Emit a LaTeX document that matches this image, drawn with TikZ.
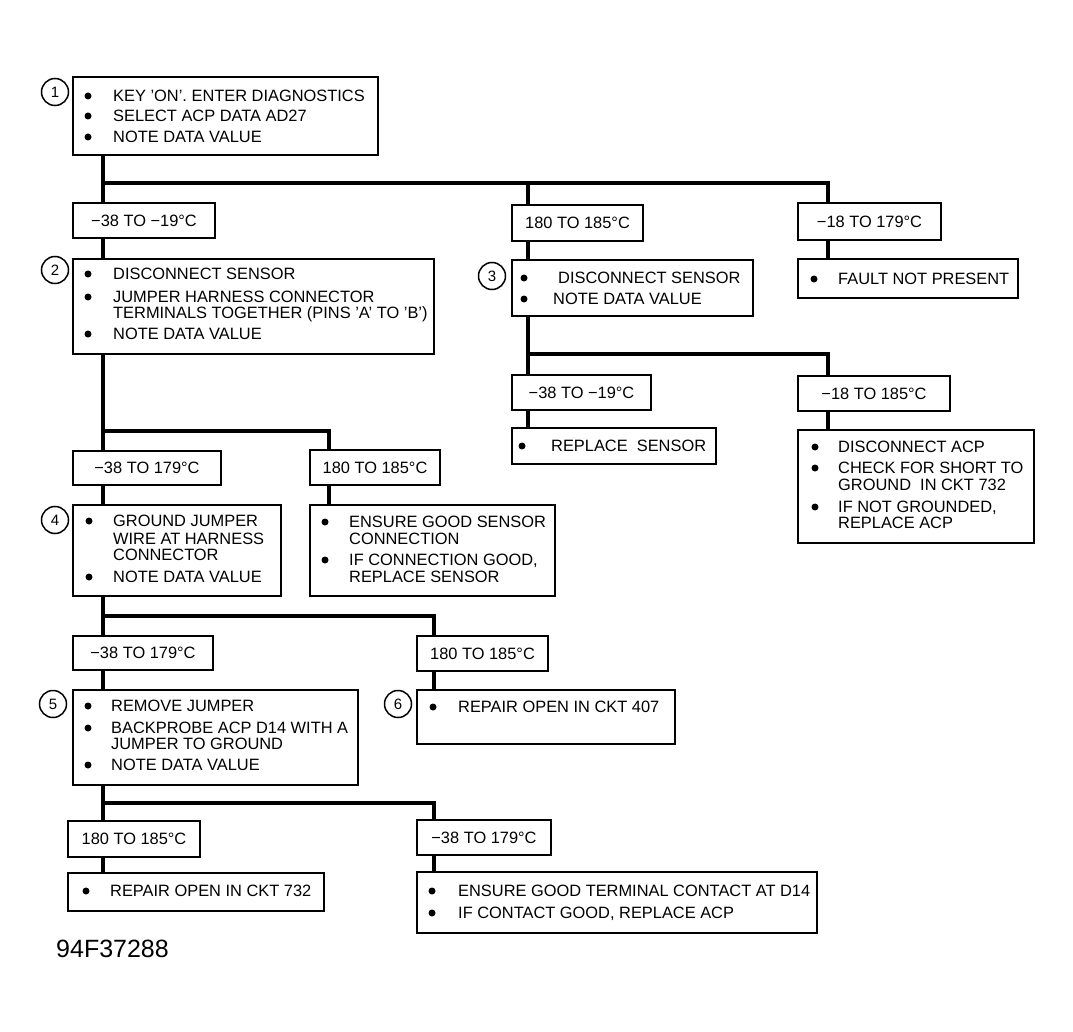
\documentclass[tikz,border=0pt]{standalone}
\usepackage{fontspec}
\setmainfont{Liberation Sans}
\newcommand\fs{\fontsize{16.4}{18}\selectfont}
\newcommand\bx[5]{\node[box,minimum width=#4pt,minimum height=#5pt] (#1) at (#2,#3) {};}
\newcommand\lb[6]{\node[box,minimum width=#4pt,minimum height=#5pt,font=\fs] (#1) at (#2,#3) {#6};}
\newcommand\bl[5]{\fill (#2,#4) circle (3.5pt); \node[txt] (#1) at (#3,#4+5.8) {#5};}
\newcommand\cl[4]{\node[txt] (#1) at (#2,#3+5.8) {#4};}
\begin{document}
\begin{tikzpicture}[x=1pt,y=-1pt,
 box/.style={draw,line width=1.7pt,anchor=north west,inner sep=0pt,outer sep=0pt},
 conn/.style={line width=3.6pt},
 txt/.style={anchor=base west,inner sep=0pt,font=\fs},
 num/.style={circle,draw,line width=1.5pt,minimum size=27pt,inner sep=0pt,font=\fontsize{15}{15}\selectfont}]
\useasboundingbox[fill=white] (0,0) rectangle (1073,1032);

% ---------- boxes ----------
\bx{b1}{73}{77}{305}{78}
\lb{lA}{73}{203}{142}{35}{−38 TO −19°C}
\lb{lB}{512}{205}{131}{36}{180 TO 185°C}
\lb{lC}{798}{203}{143}{37}{−18 TO 179°C}
\bx{b2}{73}{259}{361}{95}
\bx{b3}{512}{260}{241}{56}
\bx{bF}{798}{259}{220}{39}
\lb{lD}{512}{375}{139}{35}{−38 TO −19°C}
\lb{lE}{798}{376}{152}{35}{−18 TO 185°C}
\bx{bR}{512}{428}{204}{36}
\bx{bA}{798}{430}{236}{113}
\lb{lF}{73}{451}{148}{34}{−38 TO 179°C}
\lb{lG}{310}{450}{130}{35}{180 TO 185°C}
\bx{b4}{73}{505}{208}{91}
\bx{bS}{310}{505}{245}{91}
\lb{lH}{73}{636}{140}{34}{−38 TO 179°C}
\lb{lI}{417}{636}{131}{35}{180 TO 185°C}
\bx{b5}{73}{690}{285}{95}
\bx{b6}{417}{690}{258}{54}
\lb{lJ}{68}{821}{132}{36}{180 TO 185°C}
\lb{lK}{417}{820}{134}{35}{−38 TO 179°C}
\bx{b7}{68}{873}{256}{38}
\bx{b8}{417}{872}{400}{61}

% ---------- step numbers ----------
\node[num] (c1) at (55,92) {1};
\node[num] (c2) at (55,270) {2};
\node[num] (c3) at (492,276) {3};
\node[num] (c4) at (55,520) {4};
\node[num] (c5) at (53,704) {5};
\node[num] (c6) at (398,704) {6};

% ---------- texts ----------
\bl{t1a}{88}{113}{96}{KEY ’ON’. ENTER DIAGNOSTICS}
\bl{t1b}{88}{113}{116}{SELECT ACP DATA AD27}
\bl{t1c}{88}{113}{137}{NOTE DATA VALUE}

\bl{t2a}{88}{113}{274}{DISCONNECT SENSOR}
\bl{t2b}{88}{113}{297}{JUMPER HARNESS CONNECTOR}
\cl{t2c}{113}{313}{TERMINALS TOGETHER (PINS ’A’ TO ’B’)}
\bl{t2d}{88}{113}{334}{NOTE DATA VALUE}

\bl{t3a}{524}{558}{278}{DISCONNECT SENSOR}
\bl{t3b}{524}{553}{299}{NOTE DATA VALUE}

\bl{tFa}{814}{838}{279}{FAULT NOT PRESENT}

\bl{tRa}{522}{551}{446}{REPLACE\ \ SENSOR}

\bl{tAa}{815}{838}{447}{DISCONNECT ACP}
\bl{tAb}{815}{838}{468}{CHECK FOR SHORT TO}
\cl{tAc}{838}{485}{GROUND\ \ IN CKT 732}
\bl{tAd}{815}{838}{507}{IF NOT GROUNDED,}
\cl{tAe}{838}{523}{REPLACE ACP}

\bl{t4a}{89}{113}{521}{GROUND JUMPER}
\cl{t4b}{113}{539}{WIRE AT HARNESS}
\cl{t4c}{113}{555}{CONNECTOR}
\bl{t4d}{89}{113}{577}{NOTE DATA VALUE}

\bl{tSa}{325}{349}{522}{ENSURE GOOD SENSOR}
\cl{tSb}{349}{539}{CONNECTION}
\bl{tSc}{325}{349}{560}{IF CONNECTION GOOD,}
\cl{tSd}{349}{577}{REPLACE SENSOR}

\bl{t5a}{88}{111}{706}{REMOVE JUMPER}
\bl{t5b}{88}{111}{728}{BACKPROBE ACP D14 WITH A}
\cl{t5c}{111}{744}{JUMPER TO GROUND}
\bl{t5d}{88}{111}{765}{NOTE DATA VALUE}

\bl{t6a}{433}{458}{707}{REPAIR OPEN IN CKT 407}

\bl{t7a}{86}{110}{891}{REPAIR OPEN IN CKT 732}

\bl{t8a}{432}{458}{891}{ENSURE GOOD TERMINAL CONTACT AT D14}
\bl{t8b}{432}{458}{913}{IF CONTACT GOOD, REPLACE ACP}

\node[anchor=base west,inner sep=0pt,font=\fontsize{25}{25}\selectfont] (fig) at (56,957) {94F37288};

% ---------- connectors ----------
\coordinate (j1) at (103,183);
\coordinate (j2) at (528,354);
\coordinate (j3) at (103,431);
\coordinate (j4) at (103,616);
\coordinate (j5) at (103,803);

\draw[conn] ([xshift=30pt]b1.south west) -- ([xshift=30pt]lA.north west);
\draw[conn] (j1) -| ([xshift=30pt]lC.north west);
\draw[conn] ([xshift=16pt]lB.north west) -- ([xshift=16pt]lB.north west |- j1);
\draw[conn] ([xshift=30pt]lA.south west) -- ([xshift=30pt]b2.north west);
\draw[conn] ([xshift=16pt]lB.south west) -- ([xshift=16pt]b3.north west);
\draw[conn] ([xshift=30pt]lC.south west) -- ([xshift=30pt]bF.north west);

\draw[conn] ([xshift=16pt]b3.south west) -- ([xshift=16pt]lD.north west);
\draw[conn] (j2) -| ([xshift=30pt]lE.north west);
\draw[conn] ([xshift=16pt]lD.south west) -- ([xshift=16pt]bR.north west);
\draw[conn] ([xshift=30pt]lE.south west) -- ([xshift=30pt]bA.north west);

\draw[conn] ([xshift=30pt]b2.south west) -- ([xshift=30pt]lF.north west);
\draw[conn] (j3) -| ([xshift=19pt]lG.north west);
\draw[conn] ([xshift=30pt]lF.south west) -- ([xshift=30pt]b4.north west);
\draw[conn] ([xshift=19pt]lG.south west) -- ([xshift=19pt]bS.north west);

\draw[conn] ([xshift=30pt]b4.south west) -- ([xshift=30pt]lH.north west);
\draw[conn] (j4) -| ([xshift=17pt]lI.north west);
\draw[conn] ([xshift=30pt]lH.south west) -- ([xshift=30pt]b5.north west);
\draw[conn] ([xshift=17pt]lI.south west) -- ([xshift=17pt]b6.north west);

\draw[conn] ([xshift=30pt]b5.south west) -- ([xshift=35pt]lJ.north west);
\draw[conn] (j5) -| ([xshift=17pt]lK.north west);
\draw[conn] ([xshift=35pt]lJ.south west) -- ([xshift=35pt]b7.north west);
\draw[conn] ([xshift=17pt]lK.south west) -- ([xshift=17pt]b8.north west);
\end{tikzpicture}
\end{document}
